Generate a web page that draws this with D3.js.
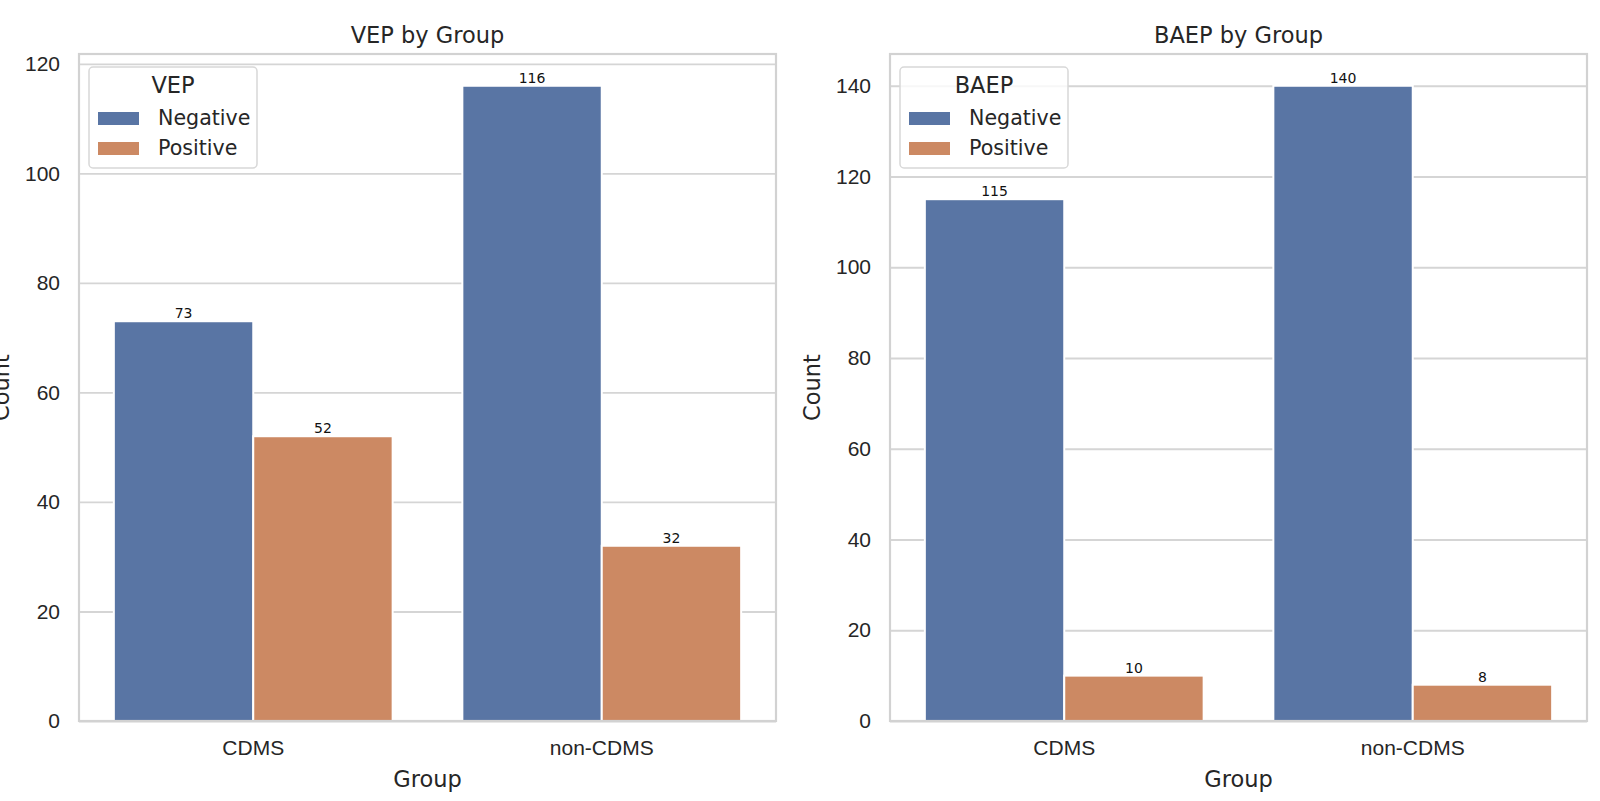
<!DOCTYPE html>
<html>
  <head>
    <meta charset="utf-8" />
    <script src="https://d3js.org/d3.v7.min.js"></script>
    <title>VEP / BAEP by Group</title>
    <style>
        body { margin: 0; background: #fff; }
        svg { display: block; font-family: "DejaVu Sans", sans-serif; }
        .tick text { fill: #262626; }
    </style>
  </head>
  <body>

    <svg id="chart" width="1600" height="801"></svg>

    <script>
    // data
    var groups = ["CDMS", "non-CDMS"];
    var statuses = ["Negative", "Positive"];

    var vepNegative = [73, 116];
    var vepPositive = [52, 32];
    var baepNegative = [115, 140];
    var baepPositive = [10, 8];

    var vepTicks = [0, 20, 40, 60, 80, 100, 120];
    var baepTicks = [0, 20, 40, 60, 80, 100, 120, 140];

    var colors = ["#5975a4", "#cc8963"];

    var svg = d3.select("#chart");
    // note: "top" is reserved on window, so use plotTop
    var plotTop = 54, plotBottom = 721, plotW = 697;

    function drawPanel(left, title, legendTitle, neg, pos, ticks){

        var rows = groups.map(function(g, i){
            return {group: g, values: [neg[i], pos[i]]};
        });
        var maxVal = d3.max(neg.concat(pos));

        var x = d3.scaleBand()
            .domain(groups)
            .range([left, left + plotW])
            .paddingInner(0.2)
            .paddingOuter(0.1);

        var xInner = d3.scaleBand()
            .domain(statuses)
            .range([0, x.bandwidth()]);

        var y = d3.scaleLinear()
            .domain([0, maxVal * 1.05])
            .range([plotBottom, plotTop]);

        var g = svg.append("g");

        // horizontal grid + y tick labels
        g.append("g")
            .attr("transform", "translate(" + left + ",0)")
            .call(d3.axisLeft(y).tickValues(ticks).tickSize(-plotW).tickPadding(19).tickFormat(d3.format("d")))
            .call(function(a){
                a.select(".domain").remove();
                a.selectAll(".tick line").attr("stroke", "#d5d5d5").attr("stroke-width", 1.8);
                a.selectAll(".tick text").attr("font-size", "21px");
            });

        // bars
        var grp = g.selectAll(".grp")
            .data(rows)
            .enter().append("g")
            .attr("transform", function(d){ return "translate(" + x(d.group) + ",0)"; });

        grp.selectAll("rect")
            .data(function(d){ return d.values.map(function(v, i){ return {key: statuses[i], value: v}; }); })
            .enter().append("rect")
            .attr("x", function(d){ return xInner(d.key); })
            .attr("width", xInner.bandwidth())
            .attr("y", function(d){ return y(d.value); })
            .attr("height", function(d){ return y(0) - y(d.value); })
            .attr("fill", function(d, i){ return colors[i]; })
            .attr("stroke", "#fff")
            .attr("stroke-width", 2);

        grp.selectAll(".lbl")
            .data(function(d){ return d.values.map(function(v, i){ return {key: statuses[i], value: v}; }); })
            .enter().append("text")
            .attr("class", "lbl")
            .attr("x", function(d){ return xInner(d.key) + xInner.bandwidth() / 2; })
            .attr("y", function(d){ return y(d.value) - 3; })
            .attr("text-anchor", "middle")
            .attr("font-size", "14px")
            .attr("fill", "#111")
            .text(function(d){ return d.value; });

        // frame
        g.append("rect")
            .attr("x", left).attr("y", plotTop)
            .attr("width", plotW).attr("height", plotBottom - plotTop)
            .attr("fill", "none")
            .attr("stroke", "#d2d2d2")
            .attr("stroke-width", 2.2);

        // x tick labels
        g.append("g")
            .attr("transform", "translate(0," + plotBottom + ")")
            .call(d3.axisBottom(x).tickSize(0).tickPadding(19))
            .call(function(a){
                a.select(".domain").remove();
                a.selectAll(".tick text").attr("font-size", "21px");
            });

        // titles
        g.append("text")
            .attr("x", left + plotW / 2).attr("y", 43)
            .attr("text-anchor", "middle")
            .attr("font-size", "22.5px")
            .attr("fill", "#262626")
            .text(title);

        g.append("text")
            .attr("x", left + plotW / 2).attr("y", 787)
            .attr("text-anchor", "middle")
            .attr("font-size", "22.5px")
            .attr("fill", "#262626")
            .text("Group");

        g.append("text")
            .attr("transform", "translate(" + (left - 70) + "," + ((plotTop + plotBottom) / 2) + ") rotate(-90)")
            .attr("text-anchor", "middle")
            .attr("font-size", "22.5px")
            .attr("fill", "#262626")
            .text("Count");

        // legend
        var lg = g.append("g").attr("transform", "translate(" + (left + 10) + ",67)");
        lg.append("rect")
            .attr("width", 168).attr("height", 101)
            .attr("rx", 4)
            .attr("fill", "#fff").attr("fill-opacity", 0.8)
            .attr("stroke", "#d8d8d8").attr("stroke-width", 1.5);
        lg.append("text")
            .attr("x", 84).attr("y", 26)
            .attr("text-anchor", "middle")
            .attr("font-size", "22.5px")
            .attr("fill", "#262626")
            .text(legendTitle);
        var items = lg.selectAll(".item")
            .data(statuses)
            .enter().append("g")
            .attr("transform", function(d, i){ return "translate(0," + (51 + i * 30) + ")"; });
        items.append("rect")
            .attr("x", 9).attr("y", -6)
            .attr("width", 41).attr("height", 13)
            .attr("fill", function(d, i){ return colors[i]; });
        items.append("text")
            .attr("x", 69).attr("y", 7)
            .attr("font-size", "20.6px")
            .attr("fill", "#262626")
            .text(function(d){ return d; });
    }

    drawPanel(79, "VEP by Group", "VEP", vepNegative, vepPositive, vepTicks);
    drawPanel(890, "BAEP by Group", "BAEP", baepNegative, baepPositive, baepTicks);

    </script>

  </body>
</html>
